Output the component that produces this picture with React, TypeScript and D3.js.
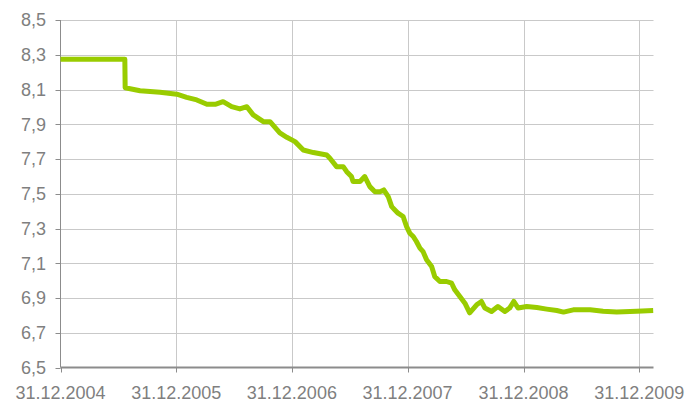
import React, { useEffect, useRef } from "react";
import * as d3 from "d3";

const dates: string[] = [
  "2004-12-31", "2005-07-22", "2005-07-23", "2005-09-08", "2005-11-10", "2006-01-02",
  "2006-02-02", "2006-03-06", "2006-04-07", "2006-05-03", "2006-05-28", "2006-06-24",
  "2006-07-20", "2006-08-11", "2006-08-31", "2006-10-02", "2006-10-23", "2006-11-23",
  "2006-12-15", "2007-01-10", "2007-02-05", "2007-03-09", "2007-04-20", "2007-04-30",
  "2007-05-21", "2007-06-11", "2007-06-22", "2007-07-07", "2007-07-12", "2007-08-03",
  "2007-08-18", "2007-09-03", "2007-09-19", "2007-10-05", "2007-10-17", "2007-10-31",
  "2007-11-11", "2007-11-21", "2007-12-01", "2007-12-17", "2007-12-28", "2008-01-07",
  "2008-01-18", "2008-01-28", "2008-02-08", "2008-02-18", "2008-02-29", "2008-03-16",
  "2008-03-26", "2008-04-11", "2008-05-02", "2008-05-18", "2008-05-28", "2008-06-13",
  "2008-06-29", "2008-07-14", "2008-08-05", "2008-08-20", "2008-08-31", "2008-09-21",
  "2008-10-11", "2008-11-02", "2008-11-17", "2008-11-30", "2008-12-14", "2009-01-10",
  "2009-02-11", "2009-03-14", "2009-04-15", "2009-05-06", "2009-06-06", "2009-07-29",
  "2009-09-08", "2009-10-21", "2009-12-23", "2010-02-13",
];

const values: number[] = [
  8.274, 8.274, 8.11, 8.093, 8.084, 8.073,
  8.055, 8.04, 8.015, 8.015, 8.03, 8.001,
  7.988, 8.001, 7.954, 7.915, 7.915, 7.85,
  7.825, 7.8, 7.752, 7.737, 7.723, 7.704,
  7.656, 7.656, 7.627, 7.599, 7.57, 7.57,
  7.599, 7.541, 7.512, 7.512, 7.522, 7.484,
  7.426, 7.407, 7.388, 7.369, 7.311, 7.273,
  7.254, 7.225, 7.187, 7.167, 7.12, 7.081,
  7.023, 6.995, 6.995, 6.985, 6.947, 6.908,
  6.87, 6.815, 6.861, 6.88, 6.842, 6.822,
  6.851, 6.822, 6.842, 6.88, 6.842, 6.851,
  6.845, 6.836, 6.828, 6.819, 6.832, 6.832,
  6.824, 6.82, 6.824, 6.828,
];

const yTicks: number[] = [6.5, 6.7, 6.9, 7.1, 7.3, 7.5, 7.7, 7.9, 8.1, 8.3, 8.5];
const xTickDates: string[] = ["2004-12-31", "2005-12-31", "2006-12-31", "2007-12-31", "2008-12-31", "2009-12-31"];
const xDomain: string[] = ["2004-12-31", "2010-02-14"];

const W = 699;
const H = 403;
const M = { left: 60.5, right: 653.5, top: 20, bottom: 367.5 };

export default function App() {
  const ref = useRef<SVGSVGElement | null>(null);

  useEffect(() => {
    const svg = d3.select(ref.current);
    svg.selectAll("*").remove();
    const parse = d3.timeParse("%Y-%m-%d");
    const data = dates.map((d, i) => ({ d: parse(d) as Date, v: values[i] }));

    const x = d3.scaleTime().domain(xDomain.map((d) => parse(d) as Date)).range([M.left, M.right]);
    const y = d3.scaleLinear().domain([6.5, 8.5]).range([M.bottom, M.top]);
    const font = "'Liberation Sans', Arial, sans-serif";
    const textColor = "#7f7f7f";
    const gridColor = "#c9c9c9";
    const axisColor = "#8c8c8c";

    // horizontal grid
    svg.append("g").selectAll("line").data(yTicks.slice(1)).join("line")
      .attr("x1", M.left).attr("x2", M.right)
      .attr("y1", (d) => Math.round(y(d)) + 0.5).attr("y2", (d) => Math.round(y(d)) + 0.5)
      .attr("stroke", gridColor).attr("stroke-width", 1);

    // vertical grid
    const xt = xTickDates.map((d) => parse(d) as Date);
    svg.append("g").selectAll("line").data(xt.slice(1)).join("line")
      .attr("x1", (d) => Math.round(x(d)) + 0.5).attr("x2", (d) => Math.round(x(d)) + 0.5)
      .attr("y1", M.top).attr("y2", M.bottom)
      .attr("stroke", gridColor).attr("stroke-width", 1);

    // y axis
    svg.append("line").attr("x1", M.left).attr("x2", M.left).attr("y1", M.top).attr("y2", M.bottom)
      .attr("stroke", axisColor).attr("stroke-width", 1);
    svg.append("g").selectAll("line").data(yTicks).join("line")
      .attr("x1", M.left - 5).attr("x2", M.left)
      .attr("y1", (d) => Math.round(y(d)) + 0.5).attr("y2", (d) => Math.round(y(d)) + 0.5)
      .attr("stroke", axisColor);
    svg.append("g").selectAll("text").data(yTicks).join("text")
      .attr("x", 46).attr("y", (d) => y(d))
      .attr("dy", "0.35em").attr("text-anchor", "end")
      .attr("font-family", font).attr("font-size", 18).attr("fill", textColor)
      .text((d) => d3.format(".1f")(d).replace(".", ","));

    // x axis
    svg.append("line").attr("x1", M.left).attr("x2", M.right).attr("y1", M.bottom).attr("y2", M.bottom)
      .attr("stroke", axisColor).attr("stroke-width", 2);
    svg.append("g").selectAll("line").data(xt).join("line")
      .attr("x1", (d) => Math.round(x(d)) + 0.5).attr("x2", (d) => Math.round(x(d)) + 0.5)
      .attr("y1", M.bottom).attr("y2", M.bottom + 5)
      .attr("stroke", axisColor);
    svg.append("g").selectAll("text").data(xt).join("text")
      .attr("x", (d) => x(d)).attr("y", 399)
      .attr("text-anchor", "middle")
      .attr("font-family", font).attr("font-size", 18).attr("fill", textColor)
      .text((d) => d3.timeFormat("%d.%m.%Y")(d));

    const line = d3.line<{ d: Date; v: number }>().x((p) => x(p.d)).y((p) => y(p.v));
    svg.append("path").datum(data).attr("d", line)
      .attr("fill", "none").attr("stroke", "#99cc00").attr("stroke-width", 5)
      .attr("stroke-linejoin", "round").attr("stroke-linecap", "butt");
  }, []);

  return (
    <svg ref={ref} width={W} height={H} style={{ position: "absolute", left: 0, top: 0, background: "#fff" }} />
  );
}
